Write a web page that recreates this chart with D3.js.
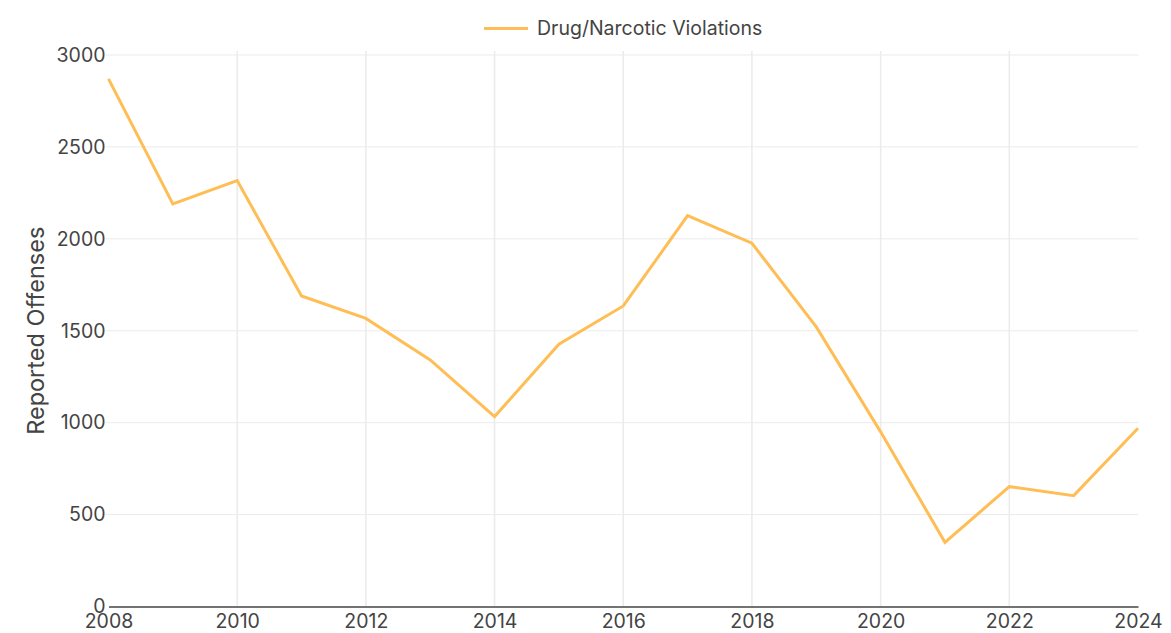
<!DOCTYPE html>
<html><head><meta charset="utf-8">
<script src="https://cdn.jsdelivr.net/npm/d3@7"></script>
<style>body{margin:0;background:#fff;}svg{display:block;font-family:Inter,"Noto Sans",sans-serif;}</style>
</head><body>
<svg id="c" width="1171" height="633"></svg>
<script>
const years = [2008,2009,2010,2011,2012,2013,2014,2015,2016,2017,2018,2019,2020,2021,2022,2023,2024];
const offenses = [2870,2190,2317,1689,1567,1341,1033,1427,1635,2126,1976,1521,950,349,652,603,970];
const seriesName = "Drug/Narcotic Violations";
const yTicks = [0,500,1000,1500,2000,2500,3000];
const xTicks = [2008,2010,2012,2014,2016,2018,2020,2022,2024];

const svg = d3.select("#c");
const m = {l:108.5, r:1138, t:55, b:606.5};
const x = d3.scaleLinear().domain([2008,2024]).range([m.l, m.r]);
const y = d3.scaleLinear().domain([0,3000]).range([m.b, m.t]);
const txt = "#444";
const fs = 19.5;

// grid
svg.append("g").selectAll("line").data(yTicks.filter(d=>d>0)).join("line")
  .attr("x1", m.l-3).attr("x2", m.r).attr("y1", d=>y(d)).attr("y2", d=>y(d))
  .attr("stroke", "#ebebeb").attr("stroke-width", 1);
svg.append("g").selectAll("line").data(xTicks.slice(1, -1)).join("line")
  .attr("x1", d=>x(d)).attr("x2", d=>x(d)).attr("y1", m.t-4).attr("y2", m.b)
  .attr("stroke", "#ebebeb").attr("stroke-width", 1.5);

// y tick labels
const ya = svg.append("g").attr("transform", `translate(${m.l},0)`)
  .call(d3.axisLeft(y).tickValues(yTicks).tickFormat(d3.format("d")).tickSize(0).tickPadding(3));
ya.select(".domain").remove();
ya.selectAll("text").attr("font-size", fs).attr("fill", txt).attr("font-family", "Inter");

// x axis
const xa = svg.append("g").attr("transform", `translate(0,${m.b})`)
  .call(d3.axisBottom(x).tickValues(xTicks).tickFormat(d3.format("d")).tickSize(0).tickPadding(8));
xa.select(".domain").attr("stroke", "#444").attr("stroke-width", 1.5);
xa.selectAll("text").attr("font-size", fs).attr("fill", txt).attr("font-family", "Inter");

// y title
svg.append("text").attr("transform", `translate(44,${(m.t+m.b)/2}) rotate(-90)`)
  .attr("text-anchor", "middle").attr("font-size", 23.5).attr("fill", txt).text("Reported Offenses");

// line
svg.append("path").datum(years.map((yr,i)=>[yr, offenses[i]]))
  .attr("fill", "none").attr("stroke", "#ffbe55").attr("stroke-width", 3)
  .attr("stroke-linejoin", "miter")
  .attr("d", d3.line().x(d=>x(d[0])).y(d=>y(d[1])));

// legend
const lg = svg.append("g");
lg.append("line").attr("x1", 484).attr("x2", 528).attr("y1", 28.5).attr("y2", 28.5)
  .attr("stroke", "#ffbe55").attr("stroke-width", 3);
lg.append("text").attr("x", 537).attr("y", 35).attr("font-size", fs).attr("fill", txt).text(seriesName);
</script>
</body></html>
